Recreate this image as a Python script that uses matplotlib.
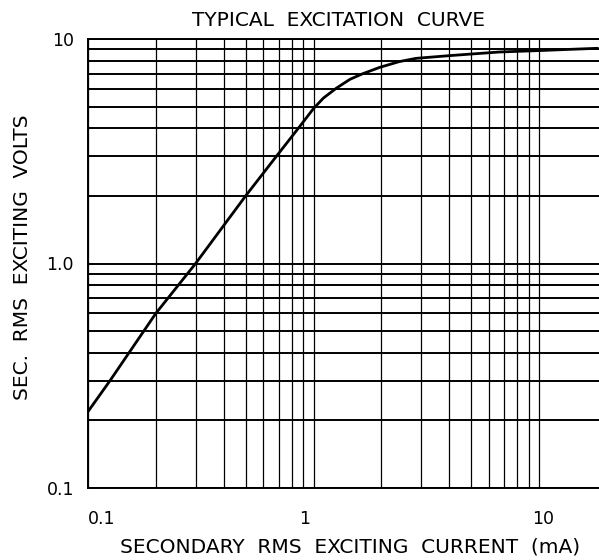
import matplotlib
matplotlib.use("Agg")
import matplotlib.pyplot as plt
import matplotlib.transforms as mtransforms

# Data
current_ma = [0.1, 0.125, 0.2, 0.3, 0.5, 0.684, 0.866, 1.0, 1.105, 1.26, 1.45, 1.65,
              1.97, 2.4, 2.85, 4.0, 5.0, 6.65, 10.0, 14.0, 18.2]
volts = [0.219, 0.30, 0.60, 1.0, 2.0, 3.0, 4.06, 4.9, 5.45, 6.03, 6.61, 7.0,
         7.48, 7.93, 8.2, 8.43, 8.57, 8.75, 8.88, 9.0, 9.09]

x_ticks = [0.1, 1, 10]
x_tick_labels = ["0.1", "1", "10"]
y_ticks = [0.1, 1.0, 10]
y_tick_labels = ["0.1", "1.0", "10"]
x_minor = [m * d for d in (0.1, 1, 10) for m in range(2, 10)]
y_minor = [m * d for d in (0.1, 1) for m in range(2, 10)]

title = "TYPICAL  EXCITATION  CURVE"
xlabel = "SECONDARY  RMS  EXCITING  CURRENT  (mA)"
ylabel = "SEC.  RMS  EXCITING  VOLTS"

plt.rcParams['font.family'] = ['DejaVu Sans']

fig = plt.figure(figsize=(5.99, 5.60), dpi=100)
ax = fig.add_axes([88/599, 1 - 488/560, 1 - 88/599, (488 - 39)/560])
ax.set_xscale('log')
ax.set_yscale('log')
ax.set_xlim(0.1, 10 ** (-1 + (599 - 88) / 225.5))
ax.set_ylim(0.1, 10)

# grid lines
for xv in x_minor + x_ticks:
    ax.axvline(xv, color='black', lw=0.9, zorder=1)
for yv in y_minor + y_ticks:
    ax.axhline(yv, color='black', lw=1.4, zorder=1)

ax.plot(current_ma, volts, color='black', lw=2.0, zorder=3,
        solid_capstyle='round', solid_joinstyle='round')

ax.set_xticks(x_ticks)
ax.set_xticklabels(x_tick_labels)
ax.set_yticks(y_ticks)
ax.set_yticklabels(y_tick_labels)
ax.minorticks_off()
ax.tick_params(axis='both', length=0, labelsize=12.5, colors='black')
ax.tick_params(axis='x', pad=16)
ax.tick_params(axis='y', pad=10)

# per-label horizontal offsets (pixels) to mimic plotter placement
offsets = [14, -9, 4]
for lab, dx in zip(ax.get_xticklabels(), offsets):
    lab.set_transform(lab.get_transform() + mtransforms.ScaledTranslation(dx / 100, 0, fig.dpi_scale_trans))

for s in ['left', 'bottom', 'top']:
    ax.spines[s].set_linewidth(1.4)
ax.spines['right'].set_visible(False)

fig.text(338 / 599, 1 - 20 / 560, title, ha='center', va='center', fontsize=14.5)
fig.text(350 / 599, 1 - 547 / 560, xlabel, ha='center', va='center', fontsize=14.5)
fig.text(23 / 599, 1 - 257 / 560, ylabel, ha='center', va='center', fontsize=14.5, rotation=90)

fig.savefig("out.png", dpi=100)
